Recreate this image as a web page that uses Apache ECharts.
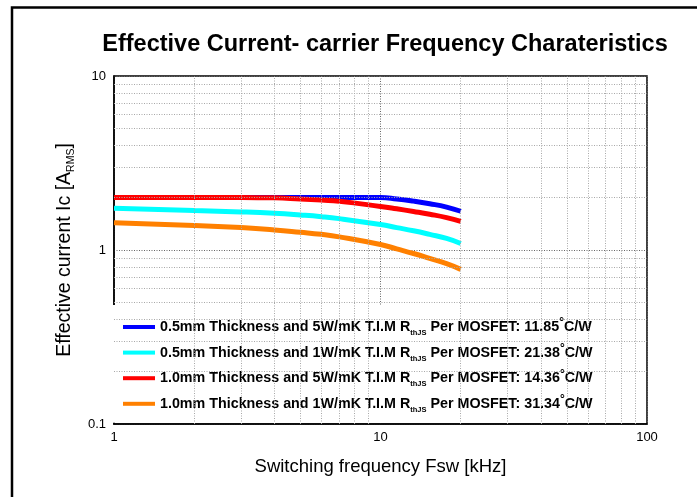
<!DOCTYPE html>
<html>
<head>
<meta charset="utf-8">
<script src="https://cdn.jsdelivr.net/npm/echarts@6/dist/echarts.min.js"></script>
<style>html,body{margin:0;padding:0;background:#fff}#c{width:697px;height:497px}</style>
</head>
<body>
<div id="c"></div>
<script>
// ---- data ----
var freq = [1, 2, 3, 4, 5, 6, 7, 10, 11.5, 13.3, 15.3, 17.7, 20];
var blueVals   = [2.0, 2.0, 2.0, 2.0, 2.0, 2.0, 2.0, 2.0, 1.965, 1.91, 1.845, 1.765, 1.67];
var cyanVals   = [1.74, 1.685, 1.655, 1.625, 1.59, 1.555, 1.515, 1.40, 1.345, 1.29, 1.23, 1.165, 1.09];
var redVals    = [2.0, 2.0, 2.0, 1.995, 1.965, 1.935, 1.905, 1.78, 1.725, 1.665, 1.605, 1.535, 1.46];
var orangeVals = [1.435, 1.385, 1.345, 1.305, 1.265, 1.23, 1.19, 1.075, 1.015, 0.955, 0.895, 0.835, 0.774];
var seriesNames = [
  '0.5mm Thickness and 5W/mK T.I.M',
  '0.5mm Thickness and 1W/mK T.I.M',
  '1.0mm Thickness and 5W/mK T.I.M',
  '1.0mm Thickness and 1W/mK T.I.M'
];
var seriesRth = ['11.85', '21.38', '14.36', '31.34'];
var seriesColors = ['#0000ff', '#00ffff', '#ff0000', '#ff8000'];
var xMinorGrid = [2, 3, 4, 5, 6, 7, 8, 9, 20, 30, 40, 50, 60, 70, 80, 90];
var yMinorGrid = [0.2, 0.3, 0.4, 0.5, 0.6, 0.7, 0.8, 0.9, 2, 3, 4, 5, 6, 7, 8, 9];
var titleText = 'Effective Current- carrier Frequency Charateristics';
var xName = 'Switching frequency Fsw [kHz]';

function pairs(vals) { return freq.map(function (f, i) { return [f, vals[i]]; }); }
var allVals = [blueVals, cyanVals, redVals, orangeVals];

var chart = echarts.init(document.getElementById('c'), null, {renderer: 'canvas'});
var FONT = 'Arial, "Liberation Sans", sans-serif';

var gridMarks = [];
xMinorGrid.forEach(function (v) { gridMarks.push({xAxis: v}); });
yMinorGrid.forEach(function (v) { gridMarks.push({yAxis: v}); });

var series = [{
  type: 'line', data: [], silent: true, z: 1,
  markLine: {
    silent: true, symbol: 'none', animation: false,
    label: {show: false},
    lineStyle: {color: '#a8a8a8', type: [1, 1.5], width: 1},
    emphasis: {disabled: true},
    data: gridMarks
  }
}];
seriesNames.forEach(function (n, i) {
  series.push({
    name: n, type: 'line', data: pairs(allVals[i]),
    showSymbol: false, smooth: 0.5,
    lineStyle: {color: seriesColors[i], width: 5, cap: 'butt'},
    itemStyle: {color: seriesColors[i]},
    z: 3, animation: false
  });
});

chart.setOption({
  animation: false,
  backgroundColor: '#fff',
  title: {
    text: titleText, left: 380, top: 28, textAlign: 'center',
    textStyle: {fontFamily: FONT, fontSize: 23.5, fontWeight: 'bold', color: '#000'}
  },
  graphic: [{
    type: 'rect', shape: {x: 12, y: 7.5, width: 900, height: 700},
    style: {fill: 'none', stroke: '#000', lineWidth: 2.5}, silent: true, z: 100
  }],
  grid: {left: 114, top: 76, width: 533, height: 348, show: true,
    borderColor: '#000', borderWidth: 1.5, backgroundColor: 'transparent'},
  legend: {
    orient: 'vertical', left: 113, top: 305,
    padding: [12, 10, 9, 10],
    backgroundColor: '#fff',
    itemWidth: 32, itemHeight: 4, itemGap: 5.6,
    icon: 'rect',
    data: seriesNames,
    formatter: function (name) {
      var i = seriesNames.indexOf(name);
      return '{a|' + name + ' R}{sub|thJS}{a| Per MOSFET: ' + seriesRth[i] + '}{sup|°}{a|C/W}';
    },
    textStyle: {
      fontFamily: FONT, fontWeight: 'bold', fontSize: 14.3, color: '#000',
      rich: {
        a: {fontFamily: FONT, fontWeight: 'bold', fontSize: 14.3, lineHeight: 20, color: '#000'},
        sub: {fontFamily: FONT, fontWeight: 'bold', fontSize: 7.5, lineHeight: 8, verticalAlign: 'bottom', color: '#000'},
        sup: {fontFamily: FONT, fontWeight: 'bold', fontSize: 12, lineHeight: 10, verticalAlign: 'top', color: '#000'}
      }
    }
  },
  xAxis: {
    type: 'log', logBase: 10, min: 1, max: 100,
    name: xName, nameLocation: 'middle', nameGap: 33,
    nameTextStyle: {fontFamily: FONT, fontSize: 18.5, color: '#000'},
    axisLine: {show: true, lineStyle: {color: '#000', width: 1.5}},
    axisTick: {show: false},
    axisLabel: {fontFamily: FONT, fontSize: 13, color: '#000', margin: 7},
    splitLine: {show: true, lineStyle: {color: '#666', type: [1, 1.5], width: 1}},
    minorTick: {show: false}, minorSplitLine: {show: false}
  },
  yAxis: {
    type: 'log', logBase: 10, min: 0.1, max: 10,
    name: '{a|Effective current Ic [A}{sub|RMS}{a|]}',
    nameLocation: 'middle', nameGap: 28, nameRotate: 90,
    nameTextStyle: {
      fontFamily: FONT, fontSize: 19.5, color: '#000',
      rich: {
        a: {fontFamily: FONT, fontSize: 19.5, lineHeight: 25, color: '#000'},
        sub: {fontFamily: FONT, fontSize: 10.5, lineHeight: 10, verticalAlign: 'bottom', color: '#000'}
      }
    },
    axisLine: {show: true, lineStyle: {color: '#000', width: 1.5}},
    axisTick: {show: false},
    axisLabel: {fontFamily: FONT, fontSize: 13, color: '#000', margin: 8,
      formatter: function (v) { return String(+v.toPrecision(3)); }},
    splitLine: {show: true, lineStyle: {color: '#666', type: [1, 1.5], width: 1}},
    minorTick: {show: false}, minorSplitLine: {show: false}
  },
  series: series
});
</script>
</body>
</html>
